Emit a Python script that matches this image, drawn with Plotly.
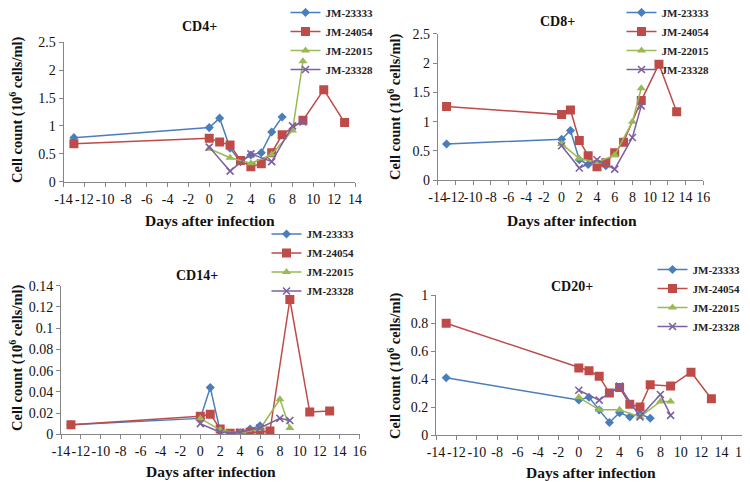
import plotly.graph_objects as go

days = [-13, 0, 1, 2, 3, 4, 5, 6, 7, 8, 9, 11, 13]
animals = ["JM-23333", "JM-24054", "JM-22015", "JM-23328"]

cd4_23333 = [0.79, 0.97, 1.14, 0.60, 0.36, 0.48, 0.52, 0.89, 1.16, None, None, None, None]
cd4_24054 = [0.68, 0.78, 0.71, 0.66, 0.38, 0.27, 0.32, 0.52, 0.84, None, 1.10, 1.65, 1.06]
cd4_22015 = [None, 0.59, None, 0.43, None, 0.33, None, 0.49, None, 0.92, 2.16, None, None]
cd4_23328 = [None, 0.62, None, 0.19, None, 0.50, None, 0.36, None, 1.00, 1.07, None, None]

cd8_23333 = [0.62, 0.70, 0.85, 0.35, 0.27, 0.30, 0.25, None, None, None, None, None, None]
cd8_24054 = [1.26, 1.12, 1.20, 0.68, 0.42, 0.23, 0.30, 0.47, 0.65, None, 1.36, 1.98, 1.17]
cd8_22015 = [None, 0.62, None, 0.37, None, 0.31, None, 0.43, None, 1.00, 1.57, None, None]
cd8_23328 = [None, 0.59, None, 0.21, None, 0.35, None, 0.19, None, 0.73, 1.27, None, None]

cd14_23333 = [0.009, 0.015, 0.044, 0.003, 0.001, 0.0015, 0.005, 0.008, None, None, None, None, None]
cd14_24054 = [0.009, 0.017, 0.019, 0.005, 0.001, 0.001, 0.002, 0.002, 0.003, None, 0.127, 0.021, 0.022]
cd14_22015 = [None, 0.015, None, 0.004, None, 0.001, None, 0.005, None, 0.033, 0.006, None, None]
cd14_23328 = [None, 0.010, None, 0.002, None, 0.002, None, 0.006, None, 0.015, 0.013, None, None]

cd20_23333 = [0.41, 0.25, 0.27, 0.18, 0.09, 0.16, 0.13, 0.15, 0.12, None, None, None, None]
cd20_24054 = [0.80, 0.48, 0.46, 0.42, 0.30, 0.34, 0.22, 0.20, 0.36, None, 0.35, 0.45, 0.26]
cd20_22015 = [None, 0.27, None, 0.18, None, 0.18, None, 0.13, None, 0.24, 0.24, None, None]
cd20_23328 = [None, 0.32, None, 0.25, None, 0.35, None, 0.13, None, 0.29, 0.14, None, None]

panels = [
    ("CD4+", [cd4_23333, cd4_24054, cd4_22015, cd4_23328], 2.5, 0.5, 14),
    ("CD8+", [cd8_23333, cd8_24054, cd8_22015, cd8_23328], 2.5, 0.5, 16),
    ("CD14+", [cd14_23333, cd14_24054, cd14_22015, cd14_23328], 0.14, 0.02, 16),
    ("CD20+", [cd20_23333, cd20_24054, cd20_22015, cd20_23328], 1, 0.2, 16),
]

colors = ["#4a7ebb", "#be4b48", "#98b954", "#7d60a0"]
symbols = ["diamond", "square", "triangle-up", "x-thin"]
sizes = [7, 9, 8, 7]

# the page body has an 8px margin, so the figure is sized to fit inside it
OFF = 8
W, H = 750 - OFF, 482 - OFF


def fx(x):
    return (x - OFF) / W


def fy(y):
    return 1 - (y - OFF) / H


# positions below are window pixels
boxes = [(63.5, 355, 42.3, 181.7), (437.7, 703.2, 33.7, 180.3),
         (61, 359.5, 285.7, 434.3), (436, 742, 295.3, 435)]
legend_pos = [(285.5, -2), (621.5, -2), (266.5, 219.5), (652.5, 255)]
title_pos = [(199, 27), (557.7, 22), (197, 275), (571.7, 286)]
ytitle_pos = [(16, 110), (394, 107), (16, 358), (394, 366)]
xtitle_pos = [(210, 220), (571.7, 220), (210.8, 471.7), (590.7, 472)]

serif = "Liberation Serif"

fig = go.Figure()
annotations = []
for p, (name, series, ymax, ystep, xmax) in enumerate(panels):
    n = "" if p == 0 else str(p + 1)
    leg = "legend" if p == 0 else f"legend{p + 1}"
    for k, vals in enumerate(series):
        marker = dict(symbol=symbols[k], size=sizes[k], color=colors[k])
        if symbols[k] == "x-thin":
            marker["line"] = dict(color=colors[k], width=1.6)
        fig.add_trace(go.Scatter(
            x=days, y=vals, name=animals[k], mode="lines+markers",
            connectgaps=True, line=dict(color=colors[k], width=1.5),
            marker=marker, xaxis="x" + n, yaxis="y" + n, legend=leg,
        ))

    l, r, t, b = boxes[p]
    xt = list(range(-14, xmax + 1, 2))
    fig.layout["xaxis" + n] = dict(
        domain=[fx(l), fx(r)], anchor="y" + n, range=[-14, xmax],
        tickvals=xt, ticktext=[str(v) for v in xt], tickangle=0,
        showline=True, linecolor="#868686", ticks="outside", ticklen=4,
        tickcolor="#868686", showgrid=False, zeroline=False, automargin=False,
        tickfont=dict(family=serif, size=14, color="#111"),
    )
    fig.layout["yaxis" + n] = dict(
        domain=[fy(b), fy(t)], anchor="x" + n, range=[0, ymax],
        dtick=ystep, showline=True, linecolor="#868686", ticks="outside",
        ticklen=4, tickcolor="#868686", showgrid=False, zeroline=False,
        automargin=False, tickfont=dict(family=serif, size=14, color="#111"),
    )
    lx, ly = legend_pos[p]
    fig.layout[leg] = dict(
        x=fx(lx), y=fy(ly), xanchor="left", yanchor="top", bgcolor="rgba(0,0,0,0)",
        font=dict(family=serif, size=11, color="#222", weight="bold"),
        itemwidth=30, tracegroupgap=0,
    )
    tx, ty = title_pos[p]
    annotations.append(dict(text=f"<b>{name}</b>", x=fx(tx), y=fy(ty),
                            xref="paper", yref="paper", showarrow=False,
                            xanchor="center", yanchor="middle",
                            font=dict(family=serif, size=14, color="#111")))
    yx, yy = ytitle_pos[p]
    annotations.append(dict(text="<b>Cell count (10<sup>6</sup> cells/ml)</b>",
                            x=fx(yx), y=fy(yy), xref="paper", yref="paper",
                            xanchor="center", yanchor="middle",
                            textangle=-90, showarrow=False,
                            font=dict(family=serif, size=14.5, color="#111")))
    dx, dy = xtitle_pos[p]
    annotations.append(dict(text="<b>Days after infection</b>", x=fx(dx), y=fy(dy),
                            xref="paper", yref="paper", showarrow=False,
                            xanchor="center", yanchor="middle",
                            font=dict(family=serif, size=15.5, color="#111")))

fig.update_layout(
    width=W, height=H, margin=dict(l=0, r=0, t=0, b=0, autoexpand=False),
    paper_bgcolor="white", plot_bgcolor="white",
    annotations=annotations, showlegend=True,
)

fig.write_html("out.html")
